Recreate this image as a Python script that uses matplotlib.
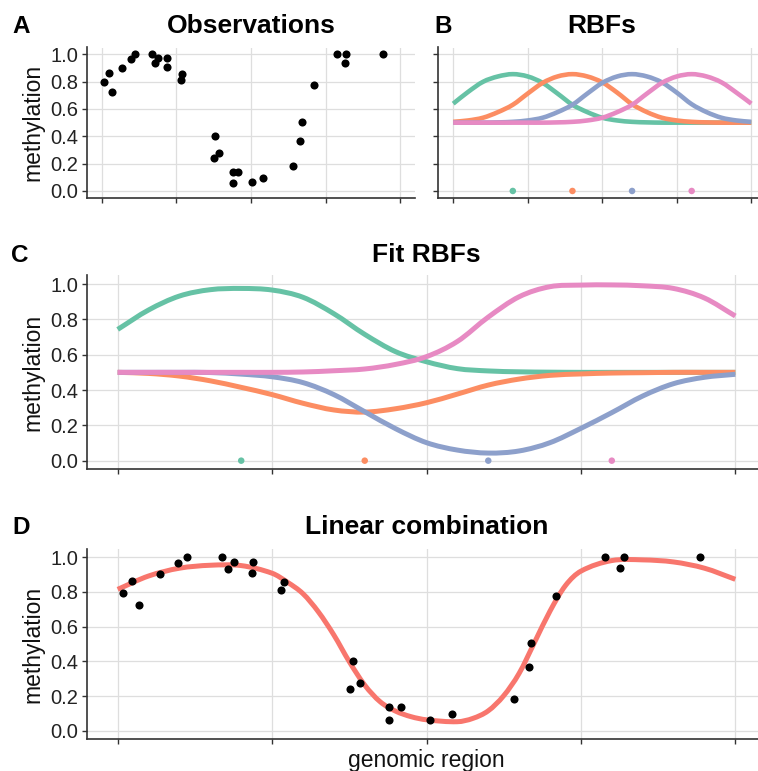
import matplotlib
matplotlib.use("Agg")
import matplotlib.pyplot as plt
from matplotlib.path import Path
from matplotlib.patches import PathPatch

plt.rcParams['font.family'] = ['Liberation Sans', 'DejaVu Sans']

# ---------------- data ----------------
obs_x = [0.008, 0.023, 0.035, 0.069, 0.098, 0.113, 0.169, 0.179, 0.189, 0.219,
         0.218, 0.269, 0.265, 0.381, 0.376, 0.392, 0.439, 0.458, 0.439, 0.505,
         0.541, 0.642, 0.666, 0.670, 0.710, 0.789, 0.819, 0.814, 0.943]
obs_y = [0.796, 0.863, 0.725, 0.901, 0.968, 1.000, 1.000, 0.934, 0.971, 0.970,
         0.910, 0.856, 0.813, 0.402, 0.243, 0.276, 0.139, 0.136, 0.061, 0.064,
         0.095, 0.185, 0.366, 0.503, 0.779, 1.000, 1.000, 0.937, 1.000]

rbf_centers = [0.2, 0.4, 0.6, 0.8]

curve_x = [0.00, 0.05, 0.10, 0.15, 0.20, 0.25, 0.30, 0.35, 0.40, 0.45, 0.50,
           0.55, 0.60, 0.65, 0.70, 0.75, 0.80, 0.85, 0.90, 0.95, 1.00]

# panel B: RBFs
rbf_green = [0.639, 0.725, 0.799, 0.838, 0.855, 0.838, 0.791, 0.713, 0.631, 0.577, 0.536,
             0.516, 0.506, 0.502, 0.500, 0.500, 0.500, 0.500, 0.500, 0.500, 0.500]
rbf_orange = [0.506, 0.516, 0.536, 0.577, 0.631, 0.713, 0.791, 0.838, 0.855, 0.838, 0.795,
              0.720, 0.635, 0.577, 0.536, 0.516, 0.506, 0.502, 0.500, 0.500, 0.500]
rbf_blue = [0.500, 0.500, 0.500, 0.502, 0.506, 0.516, 0.536, 0.577, 0.631, 0.713, 0.791,
            0.838, 0.855, 0.838, 0.795, 0.720, 0.635, 0.577, 0.536, 0.516, 0.506]
rbf_pink = [0.500, 0.500, 0.500, 0.500, 0.500, 0.500, 0.500, 0.502, 0.506, 0.516, 0.536,
            0.577, 0.631, 0.713, 0.791, 0.838, 0.855, 0.838, 0.795, 0.720, 0.639]

# panel C: fitted RBFs
fit_green = [0.743, 0.853, 0.932, 0.968, 0.975, 0.966, 0.925, 0.832, 0.715, 0.617, 0.560,
             0.521, 0.508, 0.503, 0.501, 0.500, 0.500, 0.500, 0.500, 0.500, 0.500]
fit_orange = [0.500, 0.494, 0.479, 0.452, 0.415, 0.374, 0.325, 0.287, 0.275, 0.294, 0.328,
              0.377, 0.428, 0.462, 0.483, 0.491, 0.496, 0.498, 0.500, 0.500, 0.500]
fit_blue = [0.500, 0.500, 0.500, 0.499, 0.490, 0.475, 0.442, 0.374, 0.277, 0.181, 0.102,
            0.060, 0.043, 0.055, 0.102, 0.183, 0.272, 0.366, 0.436, 0.472, 0.489]
fit_pink = [0.500, 0.500, 0.500, 0.500, 0.500, 0.500, 0.502, 0.509, 0.519, 0.545, 0.589,
            0.675, 0.813, 0.928, 0.985, 0.994, 0.995, 0.990, 0.975, 0.921, 0.819]

# panel D: linear combination
comb_x = [0.00, 0.05, 0.10, 0.15, 0.20, 0.25, 0.275, 0.30, 0.325, 0.35, 0.375, 0.40,
          0.425, 0.45, 0.475, 0.50, 0.55, 0.575, 0.60, 0.625, 0.65, 0.675, 0.70,
          0.725, 0.75, 0.80, 0.85, 0.90, 0.95, 1.00]
comb_y = [0.815, 0.892, 0.937, 0.954, 0.952, 0.908, 0.856, 0.790, 0.685, 0.552, 0.398,
          0.263, 0.167, 0.113, 0.081, 0.063, 0.052, 0.071, 0.115, 0.202, 0.331, 0.510,
          0.690, 0.837, 0.920, 0.981, 0.985, 0.973, 0.937, 0.873]

x_ticks = [0.0, 0.25, 0.5, 0.75, 1.0]
y_ticks = [0.0, 0.2, 0.4, 0.6, 0.8, 1.0]
y_ticklabels = ["0.0", "0.2", "0.4", "0.6", "0.8", "1.0"]

set2 = ['#66C2A5', '#FC8D62', '#8DA0CB', '#E78AC3']
comb_color = '#F8766D'

# ---------------- layout ----------------
W, H = 758, 771
fig = plt.figure(figsize=(W / 100, H / 100), dpi=100)


def add_ax(left, right, top, bottom):
    return fig.add_axes([left / W, 1 - bottom / H, (right - left) / W, (bottom - top) / H])


def style(ax, ylabels=True, ylabel=True):
    ax.set_xlim(-0.05, 1.05)
    ax.set_ylim(-0.05, 1.05)
    ax.set_xticks(x_ticks)
    ax.set_xticklabels([])
    ax.set_yticks(y_ticks)
    if ylabels:
        ax.set_yticklabels(y_ticklabels)
    else:
        ax.set_yticklabels([])
    ax.grid(True, color='#DEDEDE', lw=0.9, zorder=0)
    ax.set_axisbelow(True)
    for s in ['top', 'right']:
        ax.spines[s].set_visible(False)
    for s in ['left', 'bottom']:
        ax.spines[s].set_color('#333333')
        ax.spines[s].set_linewidth(1.2)
    ax.tick_params(axis='both', length=3.6, width=1.0, color='#333333',
                   labelsize=14.5, labelcolor='#222222', pad=2.5)
    if ylabel:
        ax.set_ylabel('methylation', fontsize=16.5, color='#111111', labelpad=4)


def smooth_line(ax, xs, ys, color, lw):
    """Draw a smooth (cubic Hermite / Bezier) line through the given points."""
    n = len(xs)
    slopes = []
    for i in range(n):
        if i == 0:
            m = (ys[1] - ys[0]) / (xs[1] - xs[0])
        elif i == n - 1:
            m = (ys[-1] - ys[-2]) / (xs[-1] - xs[-2])
        else:
            m = (ys[i + 1] - ys[i - 1]) / (xs[i + 1] - xs[i - 1])
        slopes.append(m)
    verts = [(xs[0], ys[0])]
    codes = [Path.MOVETO]
    for i in range(n - 1):
        h = xs[i + 1] - xs[i]
        verts += [(xs[i] + h / 3, ys[i] + slopes[i] * h / 3),
                  (xs[i + 1] - h / 3, ys[i + 1] - slopes[i + 1] * h / 3),
                  (xs[i + 1], ys[i + 1])]
        codes += [Path.CURVE4] * 3
    patch = PathPatch(Path(verts, codes), facecolor='none', edgecolor=color,
                      lw=lw, capstyle='butt', joinstyle='round', zorder=2)
    ax.add_patch(patch)


axA = add_ax(86.8, 415.1, 47.5, 197.8)
axB = add_ax(438.3, 766.2, 47.5, 197.8)
axC = add_ax(86.8, 766.2, 275.2, 469.5)
axD = add_ax(86.8, 766.2, 548.6, 739.4)

style(axA)
style(axB, ylabels=False, ylabel=False)
style(axC)
style(axD)

# A: observations
axA.scatter(obs_x, obs_y, s=34, color='black', zorder=3, linewidths=0)

# B: RBFs
for ys, c in zip([rbf_green, rbf_orange, rbf_blue, rbf_pink], set2):
    smooth_line(axB, curve_x, ys, c, 3.3)
axB.scatter(rbf_centers, [0] * len(rbf_centers), s=22, color=set2, zorder=3, linewidths=0)

# C: fit RBFs
for ys, c in zip([fit_green, fit_orange, fit_blue, fit_pink], set2):
    smooth_line(axC, curve_x, ys, c, 3.6)
axC.scatter(rbf_centers, [0] * len(rbf_centers), s=22, color=set2, zorder=3, linewidths=0)

# D: linear combination
smooth_line(axD, comb_x, comb_y, comb_color, 3.6)
axD.scatter(obs_x, obs_y, s=34, color='black', zorder=3, linewidths=0)

# titles and panel letters
def fy(px):
    return 1 - px / H


title_kw = dict(fontsize=19, fontweight='bold', va='baseline', color='black')
letter_kw = dict(fontsize=17.5, fontweight='bold', va='baseline', color='black')
fig.text(251 / W, fy(33), 'Observations', ha='center', **title_kw)
fig.text(602 / W, fy(33), 'RBFs', ha='center', **title_kw)
fig.text(426.5 / W, fy(261.5), 'Fit RBFs', ha='center', **title_kw)
fig.text(426.5 / W, fy(533.5), 'Linear combination', ha='center', **title_kw)

fig.text(12 / W, fy(33), 'A', ha='left', **letter_kw)
fig.text(434 / W, fy(33), 'B', ha='left', **letter_kw)
fig.text(11 / W, fy(261.5), 'C', ha='left', **letter_kw)
fig.text(12 / W, fy(533.5), 'D', ha='left', **letter_kw)

fig.text(426.5 / W, fy(767), 'genomic region', ha='center', va='baseline',
         fontsize=16.5, color='#111111')

fig.savefig('out.png', dpi=100)
